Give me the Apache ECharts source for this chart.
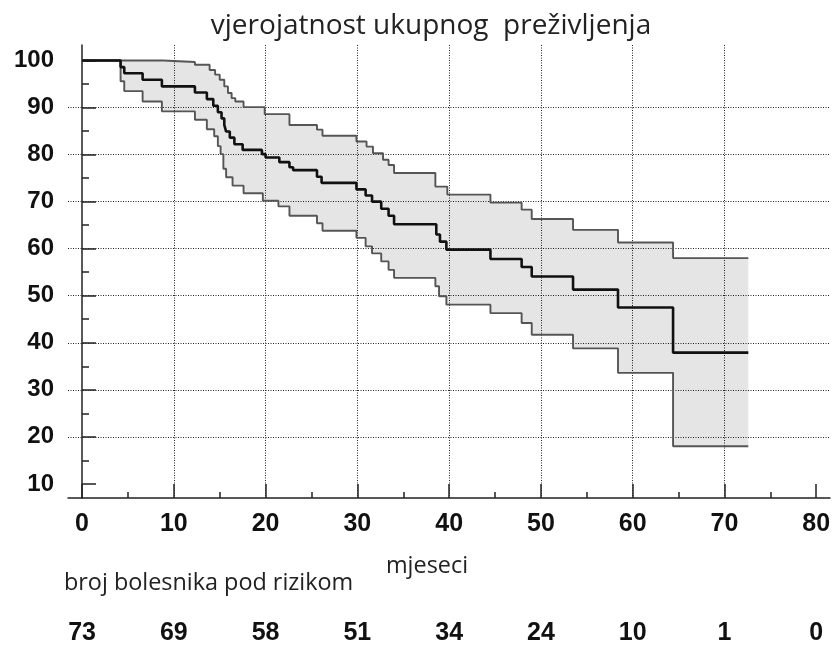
<!DOCTYPE html>
<html>
<head>
<meta charset="utf-8">
<script src="https://cdn.jsdelivr.net/npm/echarts@6.0.0/dist/echarts.min.js"></script>
<style>
body { margin: 0; background: #fff; }
#km { width: 834px; height: 646px; }
</style>
</head>
<body>
<div id="km"></div>
<script>
// Kaplan-Meier: [mjeseci, %]
var survival = [[0,100],[4.2,98.6],[4.6,97.3],[6.6,95.9],[8.7,94.5],[12.3,93.2],[13.6,91.8],[14.3,90.4],[14.8,89.0],[15.2,87.7],[15.5,86.3],[15.7,84.9],[16.1,83.6],[16.6,82.2],[17.5,81.0],[19.6,80.1],[20.0,79.4],[21.5,78.4],[22.6,77.3],[23.0,76.7],[25.6,75.3],[26.1,74.0],[29.9,72.6],[30.9,71.3],[31.6,70.0],[32.6,68.5],[33.4,67.0],[34.0,65.2],[38.6,63.0],[39.0,61.5],[39.7,59.8],[44.5,57.8],[47.9,56.1],[49.0,54.1],[53.5,51.3],[58.4,47.5],[64.4,37.9],[72.6,37.9]];
var upperCI = [[0,100],[8.8,99.7],[12.3,99.1],[13.9,98.0],[14.5,97.0],[15.0,95.9],[15.5,94.5],[15.9,93.1],[16.3,92.0],[16.7,91.3],[17.6,90.1],[19.9,88.6],[22.6,86.3],[25.6,85.3],[26.2,84.0],[29.9,82.8],[31.0,81.7],[31.7,80.3],[32.8,78.9],[33.4,77.8],[34.0,76.1],[38.5,73.2],[39.8,71.5],[44.5,69.8],[47.9,68.3],[49.0,66.3],[53.5,64.0],[58.4,61.3],[64.4,58.0],[72.6,58.0]];
var lowerCI = [[0,100],[4.2,95.6],[4.6,93.5],[6.6,91.3],[8.7,89.2],[12.3,87.4],[13.6,85.4],[14.4,83.9],[14.8,81.8],[15.1,80.1],[15.4,77.0],[15.7,75.2],[16.4,73.4],[17.6,71.8],[19.7,70.2],[21.4,69.0],[22.6,67.0],[25.6,65.4],[26.2,63.8],[29.9,62.3],[30.9,60.5],[31.6,59.0],[32.6,57.3],[33.4,55.5],[34.0,53.8],[38.5,52.0],[38.9,49.9],[39.7,48.1],[44.5,46.3],[47.9,44.2],[49.0,41.7],[53.5,38.8],[58.4,33.6],[64.4,18.0],[72.6,18.0]];

var xTicks = [0, 10, 20, 30, 40, 50, 60, 70, 80];
var xMinorTicks = [5, 15, 25, 35, 45, 55, 65, 75];
var yTicks = [10, 20, 30, 40, 50, 60, 70, 80, 90, 100];
var yMinorTicks = [15, 25, 35, 45, 55, 65, 75, 85, 95];
var atRisk = [73, 69, 58, 51, 34, 24, 10, 1, 0];

var myChart = echarts.init(document.getElementById('km'));

// step curve -> corner points
function stepPoints(pts) {
	var out = [];
	for (var i = 0; i < pts.length; i++) {
		if (i > 0) out.push([pts[i][0], pts[i - 1][1]]);
		out.push(pts[i]);
	}
	return out;
}
var band = stepPoints(upperCI).concat(stepPoints(lowerCI).reverse());

var gridBox = {left: 68, right: 4, top: 45, bottom: 148};
var xMin = -1.53, xMax = 81.5, yMin = 7, yMax = 103.3;
var labelFont = {color: '#111', fontFamily: 'Liberation Sans', fontWeight: 'bold'};
var dots = {color: '#222', width: 1, type: [1, 1.5]};

option = {
	backgroundColor: '#fff',
	animation: false,
	grid: [gridBox, gridBox, gridBox],
	graphic: [
		{type: 'text', x: 431, y: 26, style: {text: 'vjerojatnost ukupnog  preživljenja', font: '28px "Open Sans"', fill: '#222', align: 'center', verticalAlign: 'middle'}},
		{type: 'text', x: 427, y: 566, style: {text: 'mjeseci', font: '23.4px "Open Sans"', fill: '#222', align: 'center', verticalAlign: 'middle'}},
		{type: 'text', x: 64, y: 583, style: {text: 'broj bolesnika pod rizikom', font: '23.4px "Open Sans"', fill: '#222', align: 'left', verticalAlign: 'middle'}}
	],
	xAxis: [
		{
			type: 'value', gridIndex: 0, min: xMin, max: xMax, splitNumber: 8,
			axisLine: {onZero: false, lineStyle: {color: '#222', width: 1.5}},
			axisTick: {inside: true, length: 14, customValues: xTicks, lineStyle: {color: '#222', width: 1.5}},
			axisLabel: Object.assign({customValues: xTicks, fontSize: 25, margin: 14}, labelFont),
			splitLine: {show: true, showMinLine: false, showMaxLine: false, lineStyle: dots}
		},
		{
			type: 'value', gridIndex: 1, min: xMin, max: xMax,
			axisLine: {show: false},
			axisTick: {inside: true, length: 6, customValues: xMinorTicks, lineStyle: {color: '#222', width: 1.5}},
			axisLabel: {show: false},
			splitLine: {show: false}
		},
		{
			type: 'value', gridIndex: 2, min: xMin, max: xMax, offset: 110,
			axisLine: {show: false},
			axisTick: {show: false},
			axisLabel: Object.assign({
				customValues: xTicks, fontSize: 25, margin: 13,
				formatter: function (v) { return String(atRisk[Math.round(v / 10)]); }
			}, labelFont),
			splitLine: {show: false}
		}
	],
	yAxis: [
		{
			type: 'value', gridIndex: 0, min: yMin, max: yMax, splitNumber: 10,
			axisLine: {show: true, lineStyle: {color: '#222', width: 1.5}},
			axisTick: {show: true, inside: true, length: 14, customValues: yTicks, lineStyle: {color: '#222', width: 1.5}},
			axisLabel: Object.assign({customValues: yTicks, fontSize: 24, margin: 14}, labelFont),
			splitLine: {show: true, showMinLine: false, showMaxLine: false, lineStyle: dots}
		},
		{
			type: 'value', gridIndex: 1, min: yMin, max: yMax,
			axisLine: {show: false},
			axisTick: {show: true, inside: true, length: 7, customValues: yMinorTicks, lineStyle: {color: '#222', width: 1.5}},
			axisLabel: {show: false},
			splitLine: {show: false}
		},
		{
			type: 'value', gridIndex: 2, min: yMin, max: yMax,
			axisLine: {show: false}, axisTick: {show: false}, axisLabel: {show: false}, splitLine: {show: false}
		}
	],
	series: [
		{
			type: 'custom',
			xAxisIndex: 0, yAxisIndex: 0,
			data: [[0, 100]],
			z: 1,
			renderItem: function (params, api) {
				var pts = band.map(function (p) { return api.coord(p); });
				return {type: 'polygon', shape: {points: pts}, style: {fill: 'rgba(0,0,0,0.1)'}};
			}
		},
		{type: 'line', step: 'end', data: upperCI, symbol: 'none', z: 2, lineStyle: {color: '#555', width: 1.9}},
		{type: 'line', step: 'end', data: lowerCI, symbol: 'none', z: 2, lineStyle: {color: '#555', width: 1.9}},
		{type: 'line', step: 'end', data: survival, symbol: 'none', z: 3, lineStyle: {color: '#111', width: 2.6}}
	]
};

myChart.setOption(option);
</script>
</body>
</html>
